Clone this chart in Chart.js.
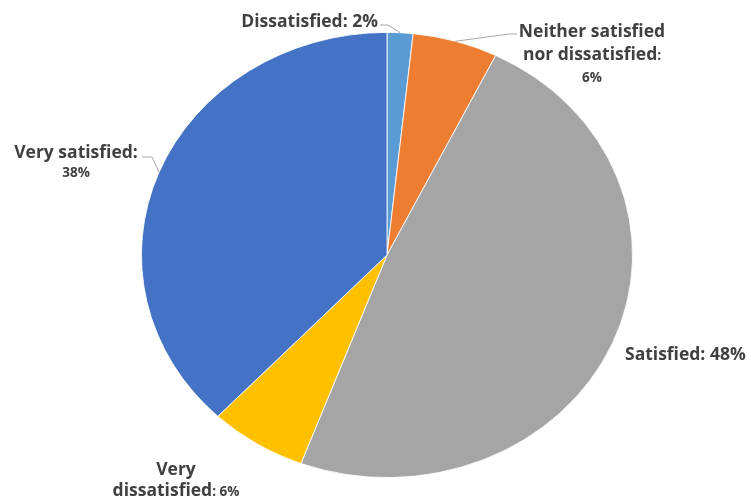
<!DOCTYPE html>
<html>
<head>
<meta charset="utf-8">
<script src="https://cdn.jsdelivr.net/npm/chart.js@4"></script>
<style>
  html, body { margin: 0; padding: 0; background: #fff; }
  #wrap { width: 751px; height: 502px; position: relative; }
</style>
</head>
<body>
<div id="wrap"><canvas id="pieChart"></canvas></div>
<script>
// data (share of answers, %)
const categories = ["Dissatisfied", "Neither satisfied nor dissatisfied", "Satisfied", "Very dissatisfied", "Very satisfied"];
const shares = [1.7, 5.6, 48.4, 6.4, 37.9];
const sliceColors = ["#5B9BD5", "#ED7D31", "#A5A5A5", "#FFC000", "#4472C4"];

const total = shares.reduce((a, b) => a + b, 0);
const pct = shares.map(v => Math.round(v / total * 100) + "%");

// Excel draws this pie a bit wider than tall
const stretchX = 246 / 223;

const BIG = "bold 17.5px 'Open Sans'";
const SMALL = "bold 13.5px 'Open Sans'";
const TEXT = "#404040";

// where each label sits and how it wraps
const labelLayout = [
    { x: 378, y: 27, align: "right", gap: 23, leader: [[380, 25], [388, 25]],
      lines: (c, p) => [[[c + ": " + p, BIG]]] },
    { x: 592, y: 37, align: "center", gap: 22.5, leader: [[517, 34], [509, 34]],
      lines: (c, p) => [[["Neither satisfied", BIG]], [["nor dissatisfied", BIG], [":", SMALL]], [[p, SMALL]]] },
    { x: 625, y: 360, align: "left", gap: 23, leader: null,
      lines: (c, p) => [[[c + ": " + p, BIG]]] },
    { x: 176, y: 475, align: "center", gap: 20.5, leader: null,
      lines: (c, p) => [[["Very", BIG]], [["dissatisfied", BIG], [": " + p, SMALL]]] },
    { x: 76, y: 158, align: "center", gap: 19, leader: [[142, 157], [152, 157]],
      lines: (c, p) => [[[c + ":", BIG]], [[p, SMALL]]] }
];

const ellipsePlugin = {
    id: "ellipse",
    beforeDatasetsDraw(chart) {
        const arc = chart.getDatasetMeta(0).data[0];
        const ctx = chart.ctx;
        ctx.save();
        ctx.translate(arc.x, arc.y);
        ctx.scale(stretchX, 1);
        ctx.translate(-arc.x, -arc.y);
    },
    afterDatasetsDraw(chart) {
        chart.ctx.restore();
    }
};

const labelPlugin = {
    id: "sliceLabels",
    afterDraw(chart) {
        const ctx = chart.ctx;
        const arcs = chart.getDatasetMeta(0).data;
        ctx.save();
        arcs.forEach((arc, i) => {
            const lay = labelLayout[i];
            if (lay.leader) {
                const mid = (arc.startAngle + arc.endAngle) / 2;
                const ex = arc.x + Math.cos(mid) * arc.outerRadius * stretchX;
                const ey = arc.y + Math.sin(mid) * arc.outerRadius;
                ctx.strokeStyle = "#A6A6A6";
                ctx.lineWidth = 1;
                ctx.beginPath();
                ctx.moveTo(lay.leader[0][0], lay.leader[0][1]);
                ctx.lineTo(lay.leader[1][0], lay.leader[1][1]);
                ctx.lineTo(ex, ey);
                ctx.stroke();
            }
            ctx.fillStyle = TEXT;
            ctx.textBaseline = "alphabetic";
            ctx.textAlign = "left";
            lay.lines(categories[i], pct[i]).forEach((segs, li) => {
                let w = 0;
                segs.forEach(s => { ctx.font = s[1]; w += ctx.measureText(s[0]).width; });
                let x = lay.align === "center" ? lay.x - w / 2 : lay.align === "right" ? lay.x - w : lay.x;
                const y = lay.y + li * lay.gap;
                segs.forEach(s => {
                    ctx.font = s[1];
                    ctx.fillText(s[0], x, y);
                    x += ctx.measureText(s[0]).width;
                });
            });
        });
        ctx.restore();
    }
};

const ctx = document.getElementById("pieChart").getContext("2d");
new Chart(ctx, {
    type: "pie",
    data: {
        labels: categories,
        datasets: [{
            data: shares,
            backgroundColor: sliceColors,
            borderColor: "#ffffff",
            borderWidth: 0.8
        }]
    },
    options: {
        responsive: true,
        maintainAspectRatio: false,
        animation: false,
        layout: { padding: { left: 140, right: 117, top: 32, bottom: 24 } },
        plugins: {
            legend: { display: false },
            tooltip: { enabled: false }
        }
    },
    plugins: [ellipsePlugin, labelPlugin]
});
</script>
</body>
</html>
